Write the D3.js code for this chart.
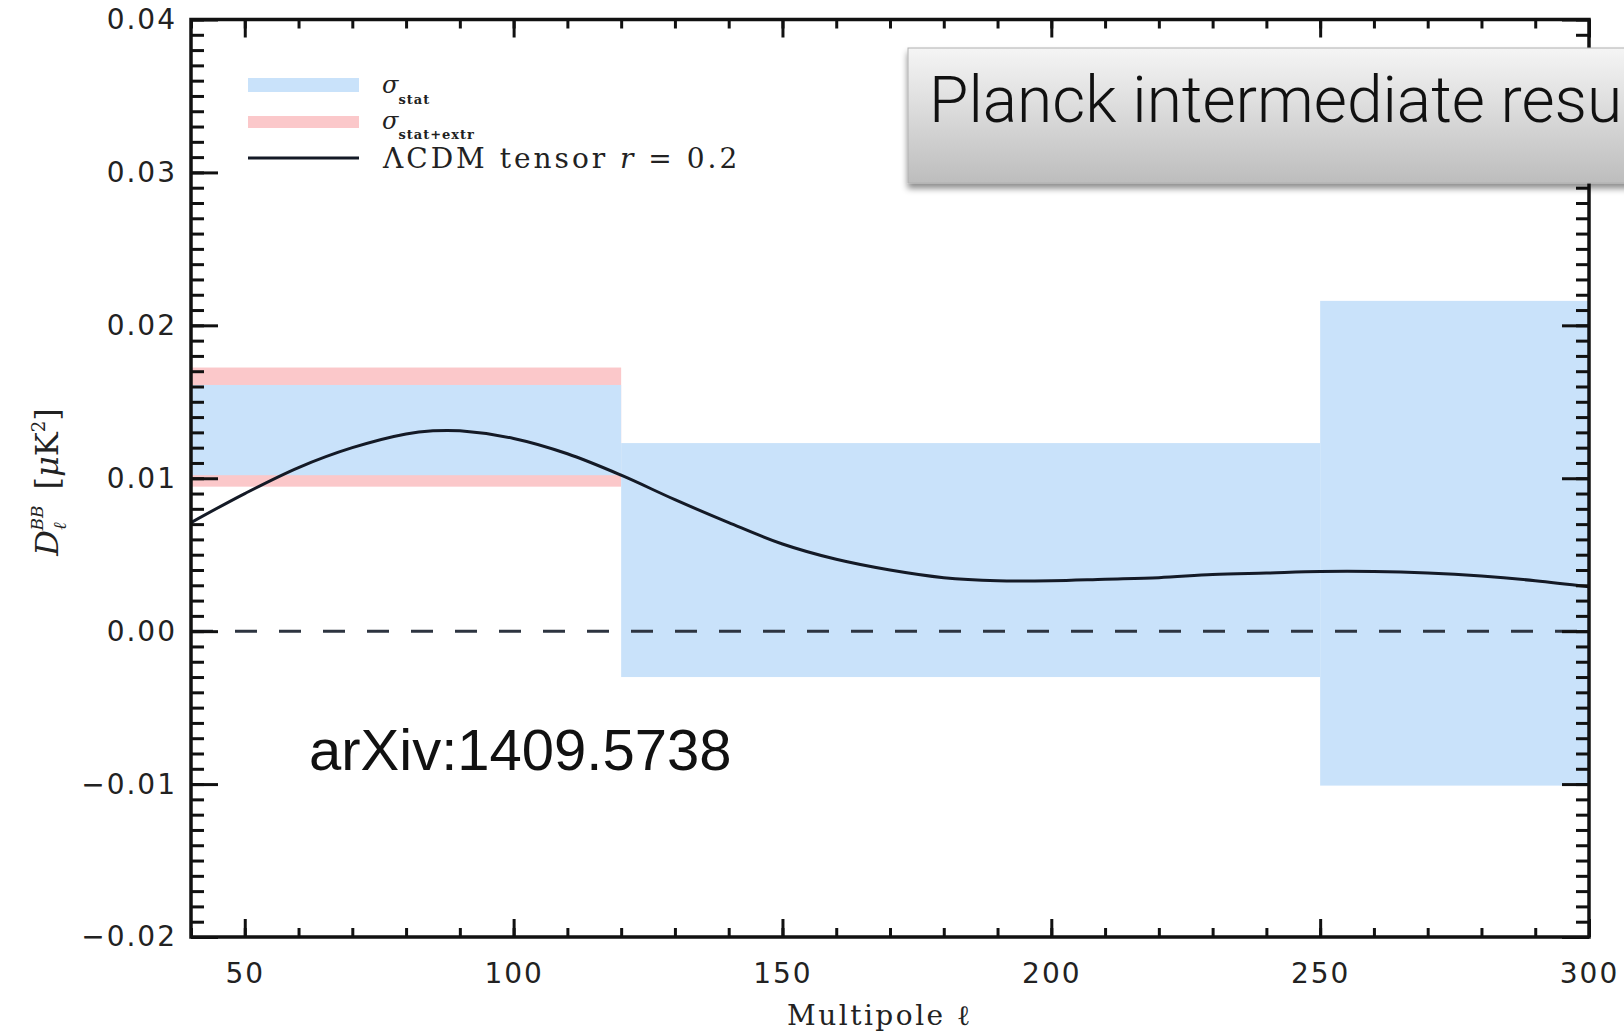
<!DOCTYPE html>
<html>
<head>
<meta charset="utf-8">
<script src="https://cdn.jsdelivr.net/npm/d3@7/dist/d3.min.js"></script>
<style>
body { margin: 0; background: #fff; }
svg { display: block; }
.tick text { font-family: "DejaVu Sans", sans-serif; font-size: 28px; letter-spacing: 2px; fill: #222; }
.tick line { stroke: #111; stroke-width: 3; }
.serif { font-family: "DejaVu Serif", serif; fill: #222; }
</style>
</head>
<body>
<svg id="chart" width="1624" height="1033"></svg>
<script>
// bins (multipole edges) and error bands
var binEdges = [40, 120, 250, 300];
var statLow  = [0.0102, -0.0030, -0.0101];
var statHigh = [0.0161, 0.0123, 0.0216];
var extrLow  = [0.00945];
var extrHigh = [0.01724];

// LCDM tensor r = 0.2 model curve
var ell = [40, 50, 60, 70, 80, 85, 90, 100, 110, 120, 130, 140, 150, 160, 170, 180, 190, 200,
           210, 220, 230, 240, 250, 260, 270, 280, 290, 300];
var dBB = [0.0071, 0.0090, 0.0107, 0.0120, 0.0129, 0.0131, 0.0131, 0.0126, 0.0116, 0.0102,
           0.0086, 0.0071, 0.0057, 0.0047, 0.0040, 0.0035, 0.0033, 0.0033, 0.0034, 0.0035,
           0.0037, 0.0038, 0.0039, 0.0039, 0.0038, 0.0036, 0.0033, 0.0029];

var xMajor = [50, 100, 150, 200, 250, 300];
var xMinor = d3.range(40, 301, 10);
var yMajor = [-0.02, -0.01, 0.00, 0.01, 0.02, 0.03, 0.04];
var yMinor = d3.range(-20, 41).map(function(d) { return d / 1000; });

var L = 191, R = 1589, T = 19.5, B = 937;

var x = d3.scaleLinear().domain([40, 300]).range([L, R]);
var y = d3.scaleLinear().domain([-0.02, 0.04]).range([B, T]);

var svg = d3.select("#chart");
svg.append("rect").attr("width", 1624).attr("height", 1033).attr("fill", "#fff");

var defs = svg.append("defs");
var grad = defs.append("linearGradient").attr("id", "boxgrad")
    .attr("x1", 0).attr("y1", 0).attr("x2", 0).attr("y2", 1);
grad.append("stop").attr("offset", "0%").attr("stop-color", "#f5f5f5");
grad.append("stop").attr("offset", "100%").attr("stop-color", "#bdbdbd");
var shadow = defs.append("filter").attr("id", "shadow")
    .attr("x", "-10%").attr("y", "-10%").attr("width", "130%").attr("height", "140%");
shadow.append("feDropShadow").attr("dx", 0).attr("dy", 5).attr("stdDeviation", 3)
    .attr("flood-color", "#000").attr("flood-opacity", 0.45);

// stat+extr bands (pink) under the stat bands
svg.append("g").selectAll("rect").data(extrLow).join("rect")
    .attr("x", function(d, i) { return x(binEdges[i]); })
    .attr("width", function(d, i) { return x(binEdges[i + 1]) - x(binEdges[i]); })
    .attr("y", function(d, i) { return y(extrHigh[i]); })
    .attr("height", function(d, i) { return y(d) - y(extrHigh[i]); })
    .attr("fill", "#fbc8ca");

svg.append("g").selectAll("rect").data(statLow).join("rect")
    .attr("x", function(d, i) { return x(binEdges[i]); })
    .attr("width", function(d, i) { return x(binEdges[i + 1]) - x(binEdges[i]); })
    .attr("y", function(d, i) { return y(statHigh[i]); })
    .attr("height", function(d, i) { return y(d) - y(statHigh[i]); })
    .attr("fill", "#c9e2fa");

// zero line
svg.append("line")
    .attr("x1", x(40)).attr("x2", x(300))
    .attr("y1", y(0)).attr("y2", y(0))
    .attr("stroke", "#2d3440").attr("stroke-width", 3)
    .attr("stroke-dasharray", "22,22");

var line = d3.line()
    .x(function(d, i) { return x(ell[i]); })
    .y(function(d) { return y(d); })
    .curve(d3.curveCatmullRom);

svg.append("path").datum(dBB)
    .attr("d", line)
    .attr("fill", "none")
    .attr("stroke", "#141a26")
    .attr("stroke-width", 3);

// axes, ticks on all four sides pointing in
function addAxis(axis, tx, ty) {
  var g = svg.append("g").attr("transform", "translate(" + tx + "," + ty + ")").call(axis);
  g.select(".domain").remove();
  return g;
}
addAxis(d3.axisBottom(x).tickValues(xMinor).tickSize(-9).tickFormat(""), 0, B);
addAxis(d3.axisBottom(x).tickValues(xMajor).tickSize(-18).tickPadding(26).tickFormat(d3.format("d")), 0, B);
addAxis(d3.axisTop(x).tickValues(xMinor).tickSize(-9).tickFormat(""), 0, T);
addAxis(d3.axisTop(x).tickValues(xMajor).tickSize(-18).tickFormat(""), 0, T);
addAxis(d3.axisLeft(y).tickValues(yMinor).tickSize(-13).tickFormat(""), L, 0);
addAxis(d3.axisLeft(y).tickValues(yMajor).tickSize(-27).tickPadding(14)
    .tickFormat(function(d) { return d3.format(".2f")(d).replace("-", "\u2212"); }), L, 0);
addAxis(d3.axisRight(y).tickValues(yMinor).tickSize(-13).tickFormat(""), R, 0);
addAxis(d3.axisRight(y).tickValues(yMajor).tickSize(-27).tickFormat(""), R, 0);

svg.append("rect")
    .attr("x", L).attr("y", T).attr("width", R - L).attr("height", B - T)
    .attr("fill", "none").attr("stroke", "#111").attr("stroke-width", 3.5);

// axis titles
svg.append("text").attr("class", "serif")
    .attr("x", 880).attr("y", 1025)
    .attr("text-anchor", "middle")
    .style("font-size", "28px").style("letter-spacing", "2.5px")
    .text("Multipole \u2113");

var yl = svg.append("text").attr("class", "serif")
    .attr("transform", "translate(58,482) rotate(-90)")
    .attr("text-anchor", "middle")
    .style("font-size", "32px");
yl.append("tspan").style("font-style", "italic").text("D");
yl.append("tspan").attr("dy", 8).style("font-size", "18px").style("font-style", "italic").text("\u2113");
yl.append("tspan").attr("dy", -23).attr("dx", -8).style("font-size", "17px").style("font-style", "italic").text("BB");
yl.append("tspan").attr("dy", 15).text("\u2002[");
yl.append("tspan").style("font-style", "italic").text("\u03bc");
yl.append("tspan").text("K");
yl.append("tspan").attr("dy", -13).style("font-size", "18px").text("2");
yl.append("tspan").attr("dy", 13).text("]");

// legend
var legend = svg.append("g");
legend.append("rect").attr("x", 248).attr("y", 78).attr("width", 111).attr("height", 14).attr("fill", "#c9e2fa");
legend.append("rect").attr("x", 248).attr("y", 116).attr("width", 111).attr("height", 12).attr("fill", "#fbc8ca");
legend.append("line").attr("x1", 248).attr("x2", 359).attr("y1", 158).attr("y2", 158)
    .attr("stroke", "#141a26").attr("stroke-width", 3);

var s1 = legend.append("text").attr("class", "serif").attr("x", 382).attr("y", 93);
s1.append("tspan").style("font-size", "24px").style("font-style", "italic").text("\u03c3");
s1.append("tspan").attr("dy", 11).style("font-size", "13px").style("font-weight", "bold")
    .style("letter-spacing", "1px").text("stat");
var s2 = legend.append("text").attr("class", "serif").attr("x", 382).attr("y", 129);
s2.append("tspan").style("font-size", "24px").style("font-style", "italic").text("\u03c3");
s2.append("tspan").attr("dy", 10).style("font-size", "13px").style("font-weight", "bold")
    .style("letter-spacing", "1px").text("stat+extr");
var s3 = legend.append("text").attr("class", "serif").attr("x", 383).attr("y", 168)
    .style("font-size", "28px").style("letter-spacing", "3px");
s3.append("tspan").text("\u039bCDM tensor ");
s3.append("tspan").style("font-style", "italic").text("r");
s3.append("tspan").text(" = 0.2");

// title box
svg.append("rect")
    .attr("x", 908).attr("y", 48).attr("width", 760).attr("height", 135)
    .attr("fill", "url(#boxgrad)").attr("stroke", "#b0b0b0").attr("stroke-width", 1)
    .attr("filter", "url(#shadow)");
svg.append("text")
    .attr("x", 929).attr("y", 122)
    .style("font-family", "Roboto, 'Liberation Sans', sans-serif")
    .style("font-weight", 300).style("font-size", "64px").attr("fill", "#111")
    .text("Planck intermediate results");

svg.append("text")
    .attr("x", 309).attr("y", 770)
    .style("font-family", "'Liberation Sans', Arial, sans-serif")
    .style("font-size", "58px").attr("fill", "#111")
    .text("arXiv:1409.5738");
</script>
</body>
</html>
